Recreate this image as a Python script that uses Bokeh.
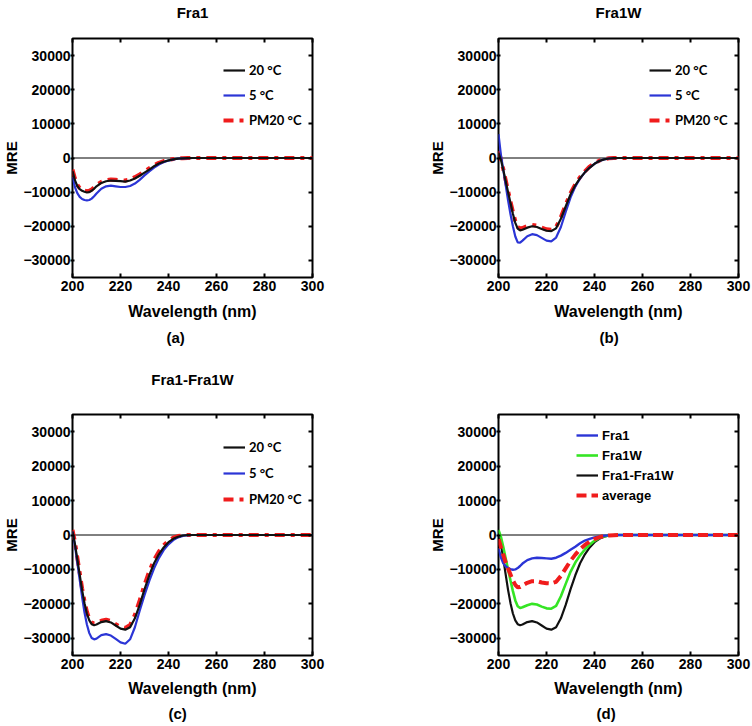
from bokeh.plotting import figure
from bokeh.models import Range1d, FixedTicker, LinearAxis, Span, Legend, LegendItem, Title
from bokeh.layouts import column, row
from bokeh.embed import file_html
from bokeh.resources import INLINE

# ---------------- data ----------------
wavelength = [200, 201, 202, 203, 204, 205, 206, 207, 208, 209, 210,
              212, 214, 216, 218, 220, 222, 224, 226, 228, 230, 232, 234, 236, 238,
              240, 242, 244, 246, 248, 250, 255, 260, 270, 280, 290, 300]

x_ticks = [200, 220, 240, 260, 280, 300]
y_ticks = [-30000, -20000, -10000, 0, 10000, 20000, 30000]

# (a) Fra1
fra1_20 = [-3800, -6500, -8200, -9100, -9600, -9900, -10100, -10000, -9600, -9000, -8300,
           -7300, -6800, -6600, -6700, -6800, -6900, -6600, -6000, -5200, -4300, -3400, -2400, -1600, -1100,
           -700, -400, -200, -100, -50, 0, 0, 0, 0, 0, 0, 0]
fra1_5 = [-5500, -8500, -10300, -11400, -12000, -12300, -12400, -12300, -11900, -11200, -10400,
          -9000, -8300, -8100, -8300, -8500, -8500, -8200, -7500, -6400, -5100, -3900, -2800, -1900, -1200,
          -750, -400, -200, -100, -50, 0, 0, 0, 0, 0, 0, 0]
fra1_pm20 = [-3400, -6000, -7800, -8800, -9300, -9600, -9700, -9600, -9200, -8600, -7900,
             -7000, -6500, -6300, -6400, -6500, -6600, -6300, -5600, -4800, -3900, -3000, -2100, -1400, -900,
             -600, -300, -150, -50, 0, 0, 0, 0, 0, 0, 0, 0]

# (b) Fra1W
fra1w_20 = [1500, -500, -3500, -6800, -10000, -13200, -16300, -19000, -20700, -21200, -21000,
            -20400, -20000, -20200, -20800, -21300, -21400, -20600, -17800, -14200, -10700, -8000, -5900, -4200, -2800,
            -1700, -900, -400, -150, -50, 0, 0, 0, 0, 0, 0, 0]
fra1w_5 = [7000, 1000, -3500, -8000, -12500, -16500, -20000, -23000, -24700, -24800, -24200,
           -22900, -22300, -22600, -23400, -24200, -24400, -23300, -20200, -15800, -11600, -8400, -6000, -4200, -2800,
           -1700, -900, -400, -150, -50, 0, 0, 0, 0, 0, 0, 0]
fra1w_pm20 = [2000, -300, -3300, -6500, -9700, -12800, -15800, -18500, -20200, -20700, -20500,
              -19900, -19600, -19800, -20400, -20900, -21000, -20200, -17300, -13700, -10300, -7700, -5600, -3900, -2500,
              -1500, -800, -300, -100, 0, 0, 0, 0, 0, 0, 0, 0]

# (c) Fra1-Fra1W
mix_20 = [1000, -2500, -7000, -11500, -16000, -19800, -22800, -24800, -25900, -26200, -26000,
          -25300, -25000, -25400, -26300, -27200, -27500, -26800, -24200, -20300, -15800, -11700, -8200, -5600, -3600,
          -2100, -1100, -500, -150, -50, 0, 0, 0, 0, 0, 0, 0]
mix_5 = [1000, -3000, -8000, -13000, -18000, -22500, -26000, -28500, -29900, -30300, -30100,
         -29100, -28800, -29200, -30200, -31200, -31600, -30300, -26800, -22000, -17500, -13300, -9700, -6700, -4400,
         -2700, -1500, -700, -250, -50, 0, 0, 0, 0, 0, 0, 0]
mix_pm20 = [1500, -2000, -6500, -11000, -15500, -19300, -22300, -24300, -25400, -25700, -25500,
            -24900, -24600, -25000, -25900, -26700, -27000, -26100, -23200, -19000, -14500, -10500, -7200, -4800, -3000,
            -1700, -800, -300, -100, 0, 0, 0, 0, 0, 0, 0, 0]

# (d) comparison
average = [-1200, -3500, -5800, -8000, -9800, -11500, -13200, -14500, -15200, -15100, -14700,
           -13900, -13400, -13400, -13800, -14000, -14100, -13600, -11900, -9700, -7500, -5700, -4100, -2900, -1900,
           -1200, -650, -300, -120, -50, 0, 0, 0, 0, 0, 0, 0]

titles = ["Fra1", "Fra1W", "Fra1-Fra1W", ""]
letters = ["(a)", "(b)", "(c)", "(d)"]
temp_labels = ["20 \u00b0C", "5 \u00b0C", "PM20 \u00b0C"]
cmp_labels = ["Fra1", "Fra1W", "Fra1-Fra1W", "average"]

# ---------------- styling ----------------
AX_FONT = "Liberation Sans"
LEG_FONT = "Lato"
BLACK = "#111111"
BLUE = "#2b35d6"
RED = "#f01c1c"
GREEN = "#35e524"


def make_panel(title, letter, fig_h, bl, br, bt, bb, title_standoff,
               xlabel_standoff, letter_offset, letter_standoff):
    p = figure(width=376, height=fig_h,
               x_range=Range1d(200, 300), y_range=Range1d(-35000, 35000),
               output_backend="svg", toolbar_location=None,
               min_border_left=bl, min_border_right=br,
               min_border_top=bt, min_border_bottom=bb)
    p.title.visible = False
    p.xgrid.visible = False
    p.ygrid.visible = False
    p.background_fill_color = "white"
    p.border_fill_color = "white"
    p.outline_line_color = "black"
    p.outline_line_width = 2
    p.outline_line_alpha = 1.0

    xa = p.xaxis[0]
    xa.ticker = FixedTicker(ticks=x_ticks)
    xa.major_tick_in = 4
    xa.major_tick_out = 0
    xa.axis_line_color = None
    xa.minor_tick_line_color = None
    xa.major_tick_line_width = 2
    xa.major_tick_line_color = "black"
    xa.major_label_text_font = AX_FONT
    xa.major_label_text_font_style = "bold"
    xa.major_label_text_font_size = "14px"
    xa.major_label_text_color = "black"
    xa.major_label_standoff = 3
    xa.axis_label = "Wavelength (nm)"
    xa.axis_label_text_font = AX_FONT
    xa.axis_label_text_font_style = "bold"
    xa.axis_label_text_font_size = "16px"
    xa.axis_label_text_color = "black"
    xa.axis_label_standoff = xlabel_standoff

    ya = p.yaxis[0]
    ya.ticker = FixedTicker(ticks=y_ticks)
    ya.major_tick_in = 2
    ya.major_tick_out = 2
    ya.axis_line_color = None
    ya.minor_tick_line_color = None
    ya.major_tick_line_width = 2
    ya.major_tick_line_color = "black"
    ya.major_label_text_font = AX_FONT
    ya.major_label_text_font_style = "bold"
    ya.major_label_text_font_size = "14px"
    ya.major_label_text_color = "black"
    ya.major_label_standoff = 0
    ya.axis_label = "MRE"
    ya.axis_label_text_font = AX_FONT
    ya.axis_label_text_font_style = "bold"
    ya.axis_label_text_font_size = "15px"
    ya.axis_label_text_color = "black"
    ya.axis_label_standoff = 0

    # top axis: inward ticks only, carries the panel title
    top = LinearAxis(ticker=FixedTicker(ticks=[], minor_ticks=x_ticks))
    top.axis_line_color = None
    top.minor_tick_in = 4
    top.minor_tick_out = 0
    top.minor_tick_line_width = 2
    top.minor_tick_line_color = "black"
    top.major_tick_line_color = None
    top.axis_label = title if title else None
    top.axis_label_text_font = AX_FONT
    top.axis_label_text_font_style = "bold"
    top.axis_label_text_font_size = "15px"
    top.axis_label_text_color = "black"
    top.axis_label_standoff = title_standoff
    p.add_layout(top, "above")

    # right axis: inward ticks only
    right = LinearAxis(ticker=FixedTicker(ticks=[], minor_ticks=y_ticks))
    right.axis_line_color = None
    right.minor_tick_in = 4
    right.minor_tick_out = 0
    right.minor_tick_line_width = 2
    right.minor_tick_line_color = "black"
    right.major_tick_line_color = None
    p.add_layout(right, "right")

    p.add_layout(Span(location=0, dimension="width", line_color="black",
                      line_width=1, level="underlay"))

    p.add_layout(Title(text=letter, align="left", offset=letter_offset,
                       vertical_align="bottom", standoff=letter_standoff,
                       text_font=AX_FONT, text_font_style="bold",
                       text_font_size="15px", text_color="black"), "below")
    return p


def add_legend(p, items, font, size, vx, vy, spacing):
    leg = Legend(items=[LegendItem(label=lab, renderers=[r]) for lab, r in items],
                 location=(vx, vy), padding=0, margin=0, spacing=spacing,
                 glyph_width=22, glyph_height=20, label_height=20,
                 label_standoff=4, border_line_color=None,
                 background_fill_alpha=0.0,
                 label_text_font=font, label_text_font_style="bold",
                 label_text_font_size=size, label_text_color="black")
    p.add_layout(leg)


DASHDOT = "10 6 4 6"

# (a)
pa = make_panel(titles[0], letters[0], 363, 72, 64, 37, 86, 18, 9, 94, 8)
ra_pm = pa.line(wavelength, fra1_pm20, line_color=RED, line_width=4, line_dash=DASHDOT)
ra_5 = pa.line(wavelength, fra1_5, line_color=BLUE, line_width=2.2)
ra_20 = pa.line(wavelength, fra1_20, line_color=BLACK, line_width=2.2)
add_legend(pa, [(temp_labels[0], ra_20), (temp_labels[1], ra_5), (temp_labels[2], ra_pm)],
           LEG_FONT, "13px", 151, 147, 5)

# (b)
pb = make_panel(titles[1], letters[1], 363, 122, 14, 37, 86, 18, 9, 101, 8)
rb_pm = pb.line(wavelength, fra1w_pm20, line_color=RED, line_width=4, line_dash=DASHDOT)
rb_5 = pb.line(wavelength, fra1w_5, line_color=BLUE, line_width=2.2)
rb_20 = pb.line(wavelength, fra1w_20, line_color=BLACK, line_width=2.2)
add_legend(pb, [(temp_labels[0], rb_20), (temp_labels[1], rb_5), (temp_labels[2], rb_pm)],
           LEG_FONT, "13px", 151, 147, 5)

# (c)
pc = make_panel(titles[2], letters[2], 363, 72, 64, 51, 71, 27, 8, 96, 6)
rc_pm = pc.line(wavelength, mix_pm20, line_color=RED, line_width=4, line_dash=DASHDOT)
rc_5 = pc.line(wavelength, mix_5, line_color=BLUE, line_width=2.2)
rc_20 = pc.line(wavelength, mix_20, line_color=BLACK, line_width=2.2)
add_legend(pc, [(temp_labels[0], rc_20), (temp_labels[1], rc_5), (temp_labels[2], rc_pm)],
           LEG_FONT, "13px", 151, 146, 6)

# (d)
pd_ = make_panel(titles[3], letters[3], 363, 122, 14, 51, 71, 27, 8, 98, 6)
rd_mix = pd_.line(wavelength, mix_20, line_color=BLACK, line_width=2.2)
rd_w = pd_.line(wavelength, fra1w_20, line_color=GREEN, line_width=2.6)
rd_1 = pd_.line(wavelength, fra1_20, line_color=BLUE, line_width=2.4)
rd_avg = pd_.line(wavelength, average, line_color=RED, line_width=4, line_dash="10 5")
add_legend(pd_, [(cmp_labels[0], rd_1), (cmp_labels[1], rd_w), (cmp_labels[2], rd_mix),
                 (cmp_labels[3], rd_avg)], AX_FONT, "13px", 78, 150, 0)

layout = column(row(pa, pb), row(pc, pd_))
open("out.html", "w").write(file_html(layout, INLINE))
